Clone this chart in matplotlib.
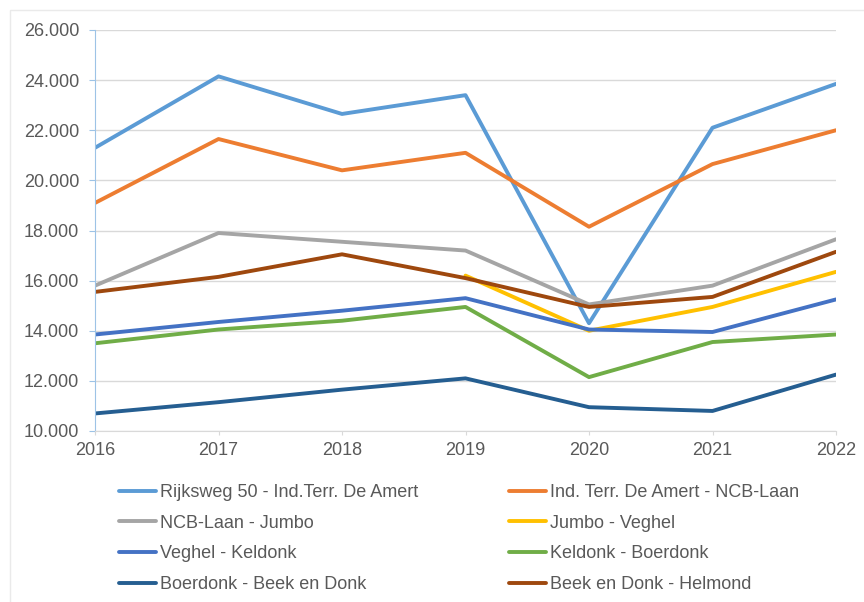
import matplotlib
matplotlib.use("Agg")
import matplotlib.pyplot as plt
from matplotlib.patches import Rectangle
from matplotlib.ticker import FuncFormatter, MultipleLocator

plt.rcParams['font.family'] = ['Liberation Sans', 'DejaVu Sans']

years = [2016, 2017, 2018, 2019, 2020, 2021, 2022]

rijksweg_amert = [21300, 24150, 22650, 23400, 14300, 22100, 23850]
amert_ncb = [19100, 21650, 20400, 21100, 18150, 20650, 22000]
ncb_jumbo = [15800, 17900, 17550, 17200, 15050, 15800, 17650]
jumbo_veghel = [None, None, None, 16200, 14000, 14950, 16350]
veghel_keldonk = [13850, 14350, 14800, 15300, 14050, 13950, 15250]
keldonk_boerdonk = [13500, 14050, 14400, 14950, 12150, 13550, 13850]
boerdonk_beek = [10700, 11150, 11650, 12100, 10950, 10800, 12250]
beek_helmond = [15550, 16150, 17050, 16100, 14950, 15350, 17150]

labels = ['Rijksweg 50 - Ind.Terr. De Amert', 'Ind. Terr. De Amert - NCB-Laan',
          'NCB-Laan - Jumbo', 'Jumbo - Veghel',
          'Veghel - Keldonk', 'Keldonk - Boerdonk',
          'Boerdonk - Beek en Donk', 'Beek en Donk - Helmond']
colors = ['#5B9BD5', '#ED7D31', '#A5A5A5', '#FFC000',
          '#4472C4', '#70AD47', '#255E91', '#9E480E']
series = [rijksweg_amert, amert_ncb, ncb_jumbo, jumbo_veghel,
          veghel_keldonk, keldonk_boerdonk, boerdonk_beek, beek_helmond]

fig = plt.figure(figsize=(8.64, 6.02), dpi=100)
ax = fig.add_axes([95 / 864, 1 - 431 / 602, (836 - 95) / 864, (431 - 30) / 602])

# faint chart-area border
fig.patches.append(Rectangle((10 / 864, -0.1), 1.2, 1 - 10 / 602 + 0.1,
                             transform=fig.transFigure, fill=False,
                             edgecolor='#EAEAEA', lw=1, zorder=0))

handles = []
for vals, col, lab in zip(series, colors, labels):
    xs = [x for x, v in zip(years, vals) if v is not None]
    ys = [v for v in vals if v is not None]
    h, = ax.plot(xs, ys, color=col, lw=2.8, label=lab, solid_capstyle='round')
    handles.append(h)

ax.set_xlim(2016, 2022)
ax.set_ylim(10000, 26000)
ax.yaxis.set_major_locator(MultipleLocator(2000))
ax.yaxis.set_major_formatter(FuncFormatter(lambda v, p: '{:,.0f}'.format(v).replace(',', '.')))
ax.set_xticks(years)
ax.grid(axis='y', color='#D9D9D9', lw=1)
ax.set_axisbelow(True)

for s in ['top', 'right']:
    ax.spines[s].set_visible(False)
ax.spines['left'].set_color('#9DC3E6')
ax.spines['bottom'].set_color('#D9D9D9')
ax.tick_params(axis='y', colors='#9DC3E6', labelcolor='#595959', labelsize=13,
               length=4.5, pad=7)
ax.tick_params(axis='x', colors='#D9D9D9', labelcolor='#595959', labelsize=13,
               length=3, pad=5)

# legend filled row by row
order = [0, 2, 4, 6, 1, 3, 5, 7]
fig.legend([handles[i] for i in order], [labels[i] for i in order],
           ncol=2, loc='upper left', bbox_to_anchor=(119 / 864, 1 - 484 / 602),
           frameon=False, fontsize=13, handlelength=2.05, handletextpad=0.22,
           columnspacing=5.0, labelspacing=0.76, borderpad=0, borderaxespad=0,
           labelcolor='#595959')

fig.savefig('out.png', dpi=100)
